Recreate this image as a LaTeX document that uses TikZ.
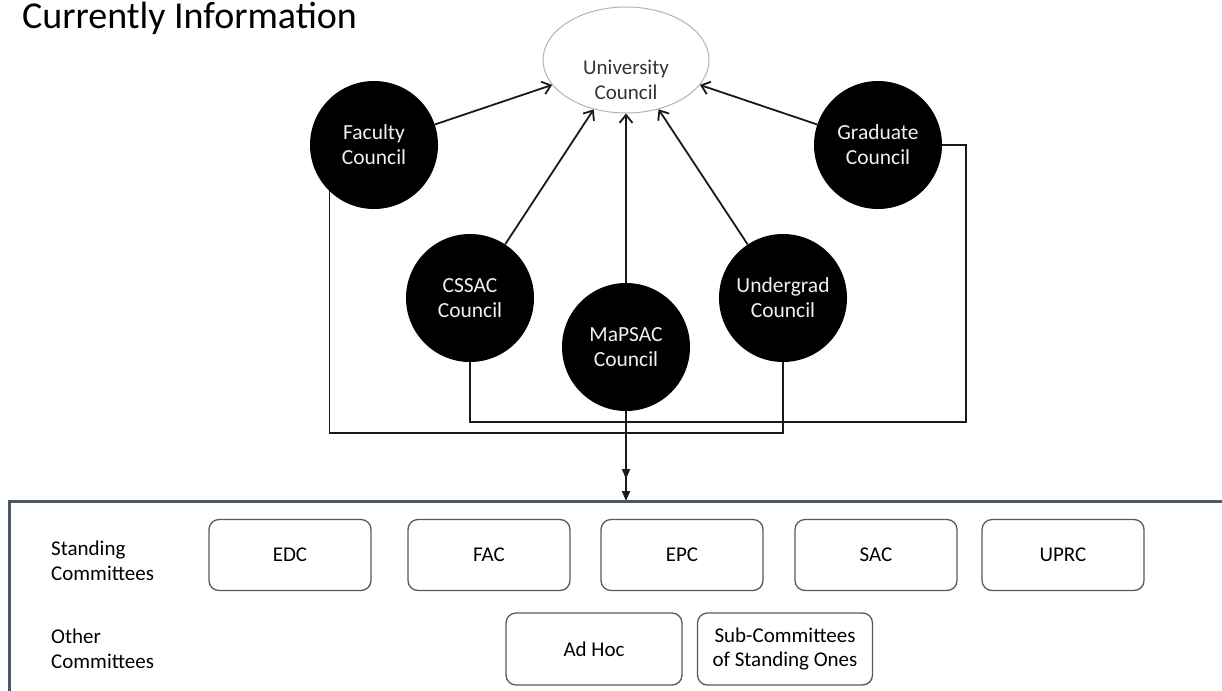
\documentclass[tikz,border=0pt]{standalone}
\usepackage{fontspec}
\setmainfont{Carlito}
\usetikzlibrary{arrows.meta,shapes.geometric}
\definecolor{panelblue}{HTML}{4A5868}

\begin{document}
\begin{tikzpicture}[>={Straight Barb[length=8pt,width=13pt]},x=1pt,y=-1pt,
  council/.style={circle,fill=black,text=black!6,minimum size=128pt,inner sep=0pt,
        align=center,font=\fontsize{21.5}{25}\selectfont},
  cmte/.style={draw=black!65,line width=1.3pt,rounded corners=10pt,minimum width=162pt,
        minimum height=71pt,align=center,font=\fontsize{21}{24.5}\selectfont},
  rowlabel/.style={anchor=west,align=left,inner sep=0pt,font=\fontsize{21}{24.5}\selectfont},
  link/.style={draw=black!90,line width=1.8pt},
  downtip/.style={-{Triangle[length=10pt,width=8pt]}}]
  \useasboundingbox (0,0) rectangle (1222,690);
  \node[anchor=base west,inner sep=0pt,font=\fontsize{38}{44}\selectfont] (title) at (22,29) {Currently Information};

  % councils
  \node[ellipse,draw=black!30,line width=1pt,minimum width=166pt,minimum height=106pt] (uc) at (626,60) {};
  \node[align=center,font=\fontsize{21}{24.5}\selectfont,text=black!80] (uctext) at (626,80) {University\\Council};
  \node[council] (faculty) at (374,145) {Faculty\\Council};
  \node[council] (graduate) at (878,145) {Graduate\\Council};
  \node[council] (cssac) at (470,298) {CSSAC\\Council};
  \node[council] (undergrad) at (783,298) {Undergrad\\Council};
  \node[council] (mapsac) at (626,347) {MaPSAC\\Council};

  \draw[link,->] (faculty) -- (uc);
  \draw[link,->] (graduate) -- (uc);
  \draw[link,->] (cssac) -- (uc);
  \draw[link,->] (mapsac) -- (uc);
  \draw[link,->] (undergrad) -- (uc);

  % buses to the committees
  \coordinate (lowbus) at (0,433);
  \coordinate (highbus) at (0,422);
  \coordinate (gradrail) at (966,0);
  \coordinate (midtip) at (626,479);
  \coordinate (paneltop) at (626,501);
  \draw[link] (faculty.226) |- (undergrad.south |- lowbus) -- (undergrad.south);
  \draw[link] (cssac.south) |- (gradrail |- highbus) |- (graduate.east);
  \draw[link,downtip] (mapsac.south) -- (midtip);
  \draw[link,downtip] (mapsac.south |- lowbus) -- (paneltop);

  % committees
  \draw[panelblue,line width=3pt] (1240,501) -- (9,501) -- (9,700);
  \node[rowlabel] (standing) at (51,561) {Standing\\Committees};
  \node[rowlabel] (other) at (51,649) {Other\\Committees};
  \node[cmte] (edc) at (290,555) {EDC};
  \node[cmte] (fac) at (489,555) {FAC};
  \node[cmte] (epc) at (682,555) {EPC};
  \node[cmte] (sac) at (876,555) {SAC};
  \node[cmte] (uprc) at (1063,555) {UPRC};
  \node[cmte,minimum width=176pt,minimum height=72pt] (adhoc) at (594,649) {Ad Hoc};
  \node[cmte,minimum width=175pt,minimum height=72pt] (subcmte) at (785,649) {Sub-Committees\\of Standing Ones};
\end{tikzpicture}
\end{document}
